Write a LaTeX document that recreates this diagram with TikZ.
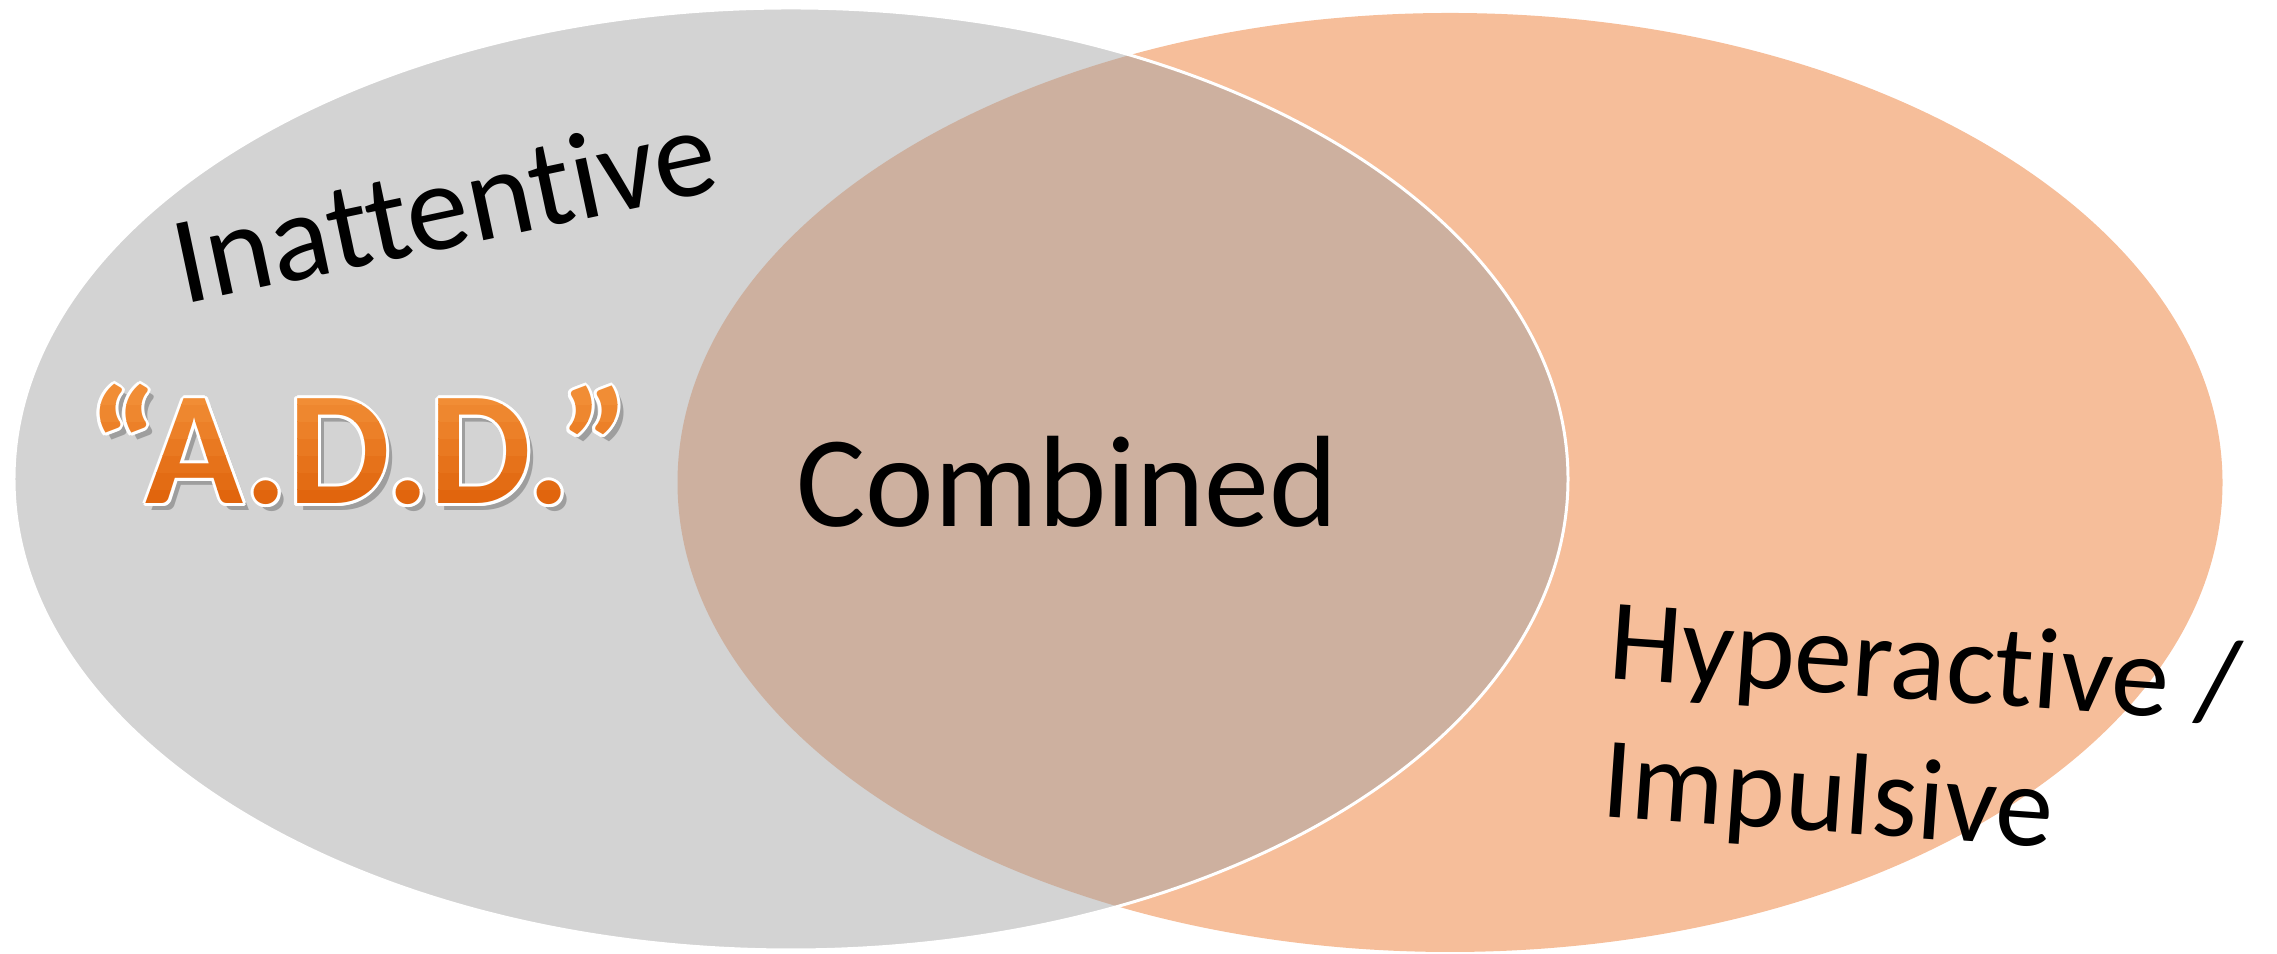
\documentclass[tikz,border=0pt]{standalone}
\usepackage{fontspec}
\setmainfont{Carlito}[Ligatures=CommonOff]
\usetikzlibrary{calc}

\definecolor{grayset}{HTML}{D3D3D3}
\definecolor{orangeset}{HTML}{F6BE9A}
\definecolor{bothset}{HTML}{CDB09F}
\definecolor{addorange}{HTML}{DE5E06}
\definecolor{addlight}{HTML}{F3923A}

\tikzset{
  vennlbl/.style={inner sep=0pt, text=black},
  addlbl/.style={inner sep=0pt, anchor=base, font=\fontsize{46}{46}\selectfont\bfseries}
}

\begin{document}
\begin{tikzpicture}
      \useasboundingbox (0,0) rectangle (22.77,9.54);

      % the two sets
      \fill[orangeset] (14.50,4.715) ellipse [x radius=7.725, y radius=4.695];
      \fill[grayset] (7.91,4.75) ellipse [x radius=7.77, y radius=4.71];
      \begin{scope}
        \clip (7.91,4.75) ellipse [x radius=7.77, y radius=4.71];
        \fill[bothset] (14.50,4.715) ellipse [x radius=7.725, y radius=4.695];
      \end{scope}
      \draw[white, line width=0.85pt] (7.91,4.75) ellipse [x radius=7.77, y radius=4.71];

      % labels
      \node[vennlbl, anchor=base, rotate=12, font=\fontsize{35.5}{38}\selectfont] (IN) at (4.53,7.07) {Inattentive};

      \node[addlbl, text=black, opacity=0.25] (ADDs) at (3.65,4.43) {“A.D.D.”};
      \foreach \a in {0,30,...,330}
        \node[addlbl, text=white] (ADDh\a) at ($(3.59,4.50)+(\a:0.03)$) {“A.D.D.”};
      % shaded letters, bottom dark to top light
      \foreach \i in {0,...,7} {
        \pgfmathtruncatemacro\mixval{\i*13}
        \begin{scope}
          \clip (0.5,{4.30+\i*0.17}) rectangle (6.8,{4.47+\i*0.17+(\i==7)*0.5});
          \node[addlbl, text=addlight!\mixval!addorange] (ADD\i) at (3.59,4.50) {“A.D.D.”};
        \end{scope}
      }

      \node[vennlbl, anchor=base, font=\fontsize{37}{40}\selectfont] (CB) at (10.67,4.27) {Combined};

      \node[vennlbl, anchor=base west, rotate=-4, font=\fontsize{33}{36}\selectfont] (HY) at (16.07,2.76) {Hyperactive /};
      \node[vennlbl, anchor=base west, rotate=-4, font=\fontsize{33}{36}\selectfont] (IM) at (16.00,1.38) {Impulsive};
\end{tikzpicture}
\end{document}
